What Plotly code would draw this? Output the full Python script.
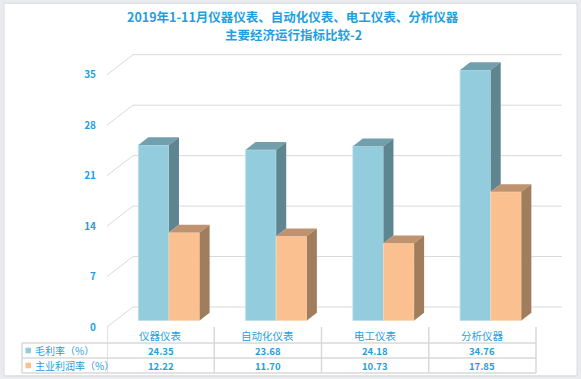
import plotly.graph_objects as go

# ---------------- data ----------------
categories = ["仪器仪表", "自动化仪表", "电工仪表", "分析仪器"]
series_names = ["毛利率（%）", "主业利润率（%）"]
gross_margin = [24.35, 23.68, 24.18, 34.76]
main_profit = [12.22, 11.70, 10.73, 17.85]
y_ticks = [0, 7, 14, 21, 28, 35]
title_lines = ["2019年1-11月仪器仪表、自动化仪表、电工仪表、分析仪器", "主要经济运行指标比较-2"]

# ---------------- style / geometry ----------------
W_PX, H_PX = 581, 379
L, R, T, B = 107, 19, 50, 52
PW, PH = W_PX - L - R, H_PX - T - B
DX, DY = 0.2424, 2.775          # back wall depth offset (x units, value units)
FX, FY = 0.078, 0.90            # bar front-face depth offset
BX, BY = 0.093, 1.07            # bar depth
BW = 0.2857                     # bar width
YMAX = PH / 7.208
TXT = "#1f9fe0"
GRID = "#d9d9d9"
FONT = "Noto Sans CJK SC"
COLS = {
    "blue": ("#93CDDD", "#729FAC", "#5F8690"),
    "orange": ("#FAC090", "#BF9270", "#A07D5C"),
}


def px_x(px):
    return (px - L) / PW


def px_y(py):
    return (H_PX - B - py) / PH


def top_face(lefts, tops):
    xs, ys = [], []
    for l, t in zip(lefts, tops):
        r = l + BW
        xs += [l, r, r + BX, l + BX, l, None]
        ys += [t, t, t + BY, t + BY, t, None]
    return xs, ys


def side_face(rights, lows, tops):
    xs, ys = [], []
    for r, lo, t in zip(rights, lows, tops):
        if t <= lo:
            continue
        xs += [r, r, r + BX, r + BX, r, None]
        ys += [lo, t, t + BY, lo + BY, lo, None]
    return xs, ys


fig = go.Figure()
xpos = list(range(len(categories)))

# front faces as bars
fig.add_trace(go.Bar(x=xpos, y=gross_margin, base=FY, width=BW, offset=FX - BW,
                     marker=dict(color=COLS["blue"][0], line=dict(color="#b9e0ea", width=0.8)),
                     name=series_names[0], hoverinfo="y"))
fig.add_trace(go.Bar(x=xpos, y=main_profit, base=FY, width=BW, offset=FX,
                     marker=dict(color=COLS["orange"][0], line=dict(color="#fcd5b3", width=0.8)),
                     name=series_names[1], hoverinfo="y"))

blue_left = [i + FX - BW for i in xpos]
blue_right = [i + FX for i in xpos]
orange_left = [i + FX for i in xpos]
orange_right = [i + FX + BW for i in xpos]
blue_top = [FY + v for v in gross_margin]
orange_top = [FY + v for v in main_profit]

# blue top + visible side
x, y = top_face(blue_left, blue_top)
fig.add_trace(go.Scatter(x=x, y=y, fill="toself", fillcolor=COLS["blue"][1], mode="lines",
                         line=dict(width=0), hoverinfo="skip"))
x, y = side_face(blue_right, [max(FY, o) for o in orange_top], blue_top)
fig.add_trace(go.Scatter(x=x, y=y, fill="toself", fillcolor=COLS["blue"][2], mode="lines",
                         line=dict(width=0), hoverinfo="skip"))
# orange top + side
x, y = top_face(orange_left, orange_top)
fig.add_trace(go.Scatter(x=x, y=y, fill="toself", fillcolor=COLS["orange"][1], mode="lines",
                         line=dict(width=0), hoverinfo="skip"))
x, y = side_face(orange_right, [FY] * len(xpos), orange_top)
fig.add_trace(go.Scatter(x=x, y=y, fill="toself", fillcolor=COLS["orange"][2], mode="lines",
                         line=dict(width=0), hoverinfo="skip"))

shapes = []
# outer gray frame
shapes.append(dict(type="rect", xref="paper", yref="paper",
                   x0=px_x(0), x1=px_x(W_PX), y0=px_y(H_PX), y1=px_y(0),
                   line=dict(color="#e9ebee", width=8), fillcolor="rgba(0,0,0,0)", layer="below"))
shapes.append(dict(type="rect", xref="paper", yref="paper",
                   x0=px_x(4), x1=px_x(577), y0=px_y(376), y1=px_y(3),
                   line=dict(color="#dcdcdc", width=1), fillcolor="rgba(0,0,0,0)", layer="below"))

# back wall gridlines with diagonal
x_lo, x_hi = -0.5, len(categories) - 0.5
for v in y_ticks:
    shapes.append(dict(type="line", xref="x", yref="y", x0=x_lo, y0=v, x1=x_lo + DX, y1=v + DY,
                       line=dict(color=GRID, width=1), layer="below"))
    shapes.append(dict(type="line", xref="x", yref="y", x0=x_lo + DX, y0=v + DY, x1=x_hi + DX, y1=v + DY,
                       line=dict(color=GRID, width=1), layer="below"))

# data table borders
TL = dict(color="#d9d9d9", width=1.5)
for i in range(len(categories) + 1):
    shapes.append(dict(type="line", xref="x", yref="paper", x0=i - 0.5, x1=i - 0.5,
                       y0=px_y(327), y1=px_y(373), line=TL))
for py in (343, 358, 373):
    shapes.append(dict(type="line", xref="paper", yref="paper", x0=px_x(22), x1=px_x(536),
                       y0=px_y(py), y1=px_y(py), line=TL))
shapes.append(dict(type="line", xref="paper", yref="paper", x0=px_x(22), x1=px_x(22),
                   y0=px_y(343), y1=px_y(373), line=TL))

annotations = []
# title lines
for k, (line, cy) in enumerate(zip(title_lines, [16, 34])):
    annotations.append(dict(x=px_x(293), y=px_y(cy), xref="paper", yref="paper",
                            text=f"<b>{line}</b>", showarrow=False, xanchor="center", yanchor="middle",
                            font=dict(size=12.5, color=TXT, family=FONT)))

row_y = [350.5, 365.5]
sw_colors = [COLS["blue"][0], COLS["orange"][0]]
for r, (name, vals) in enumerate(zip(series_names, [gross_margin, main_profit])):
    cy = row_y[r]
    shapes.append(dict(type="rect", xref="paper", yref="paper",
                       x0=px_x(25.5), x1=px_x(31), y0=px_y(cy + 2.8), y1=px_y(cy - 2.8),
                       fillcolor=sw_colors[r], line=dict(width=0)))
    annotations.append(dict(x=px_x(33), y=px_y(cy - 0.5), xref="paper", yref="paper", text=name,
                            showarrow=False, xanchor="left", yanchor="middle",
                            font=dict(size=10, color=TXT, family=FONT)))
    for i, v in enumerate(vals):
        annotations.append(dict(x=i, y=px_y(cy), xref="x", yref="paper", text=f"<b>{v:.2f}</b>",
                                showarrow=False, xanchor="center", yanchor="middle",
                                font=dict(size=9.5, color=TXT, family=FONT)))
for i, c in enumerate(categories):
    annotations.append(dict(x=i, y=px_y(335.5), xref="x", yref="paper", text=c,
                            showarrow=False, xanchor="center", yanchor="middle",
                            font=dict(size=10.5, color=TXT, family=FONT)))

fig.update_layout(
    width=W_PX, height=H_PX,
    margin=dict(l=L, r=R, t=T, b=B, pad=0),
    paper_bgcolor="white", plot_bgcolor="rgba(0,0,0,0)",
    barmode="overlay", showlegend=False,
    xaxis=dict(range=[x_lo, x_hi + DX], visible=False, fixedrange=True),
    yaxis=dict(range=[0, YMAX], tickvals=y_ticks, ticktext=[f"<b>{t}</b>" for t in y_ticks],
               showgrid=False, zeroline=False, showline=False,
               ticks="outside", ticklen=8, tickcolor="rgba(0,0,0,0)",
               tickfont=dict(size=10, color=TXT, family=FONT), fixedrange=True),
    shapes=shapes, annotations=annotations,
    font=dict(family=FONT, color=TXT),
)

fig.write_html("out.html", config={"displayModeBar": False},
               post_script="document.body.style.margin='0px';document.body.style.overflow='hidden';")
